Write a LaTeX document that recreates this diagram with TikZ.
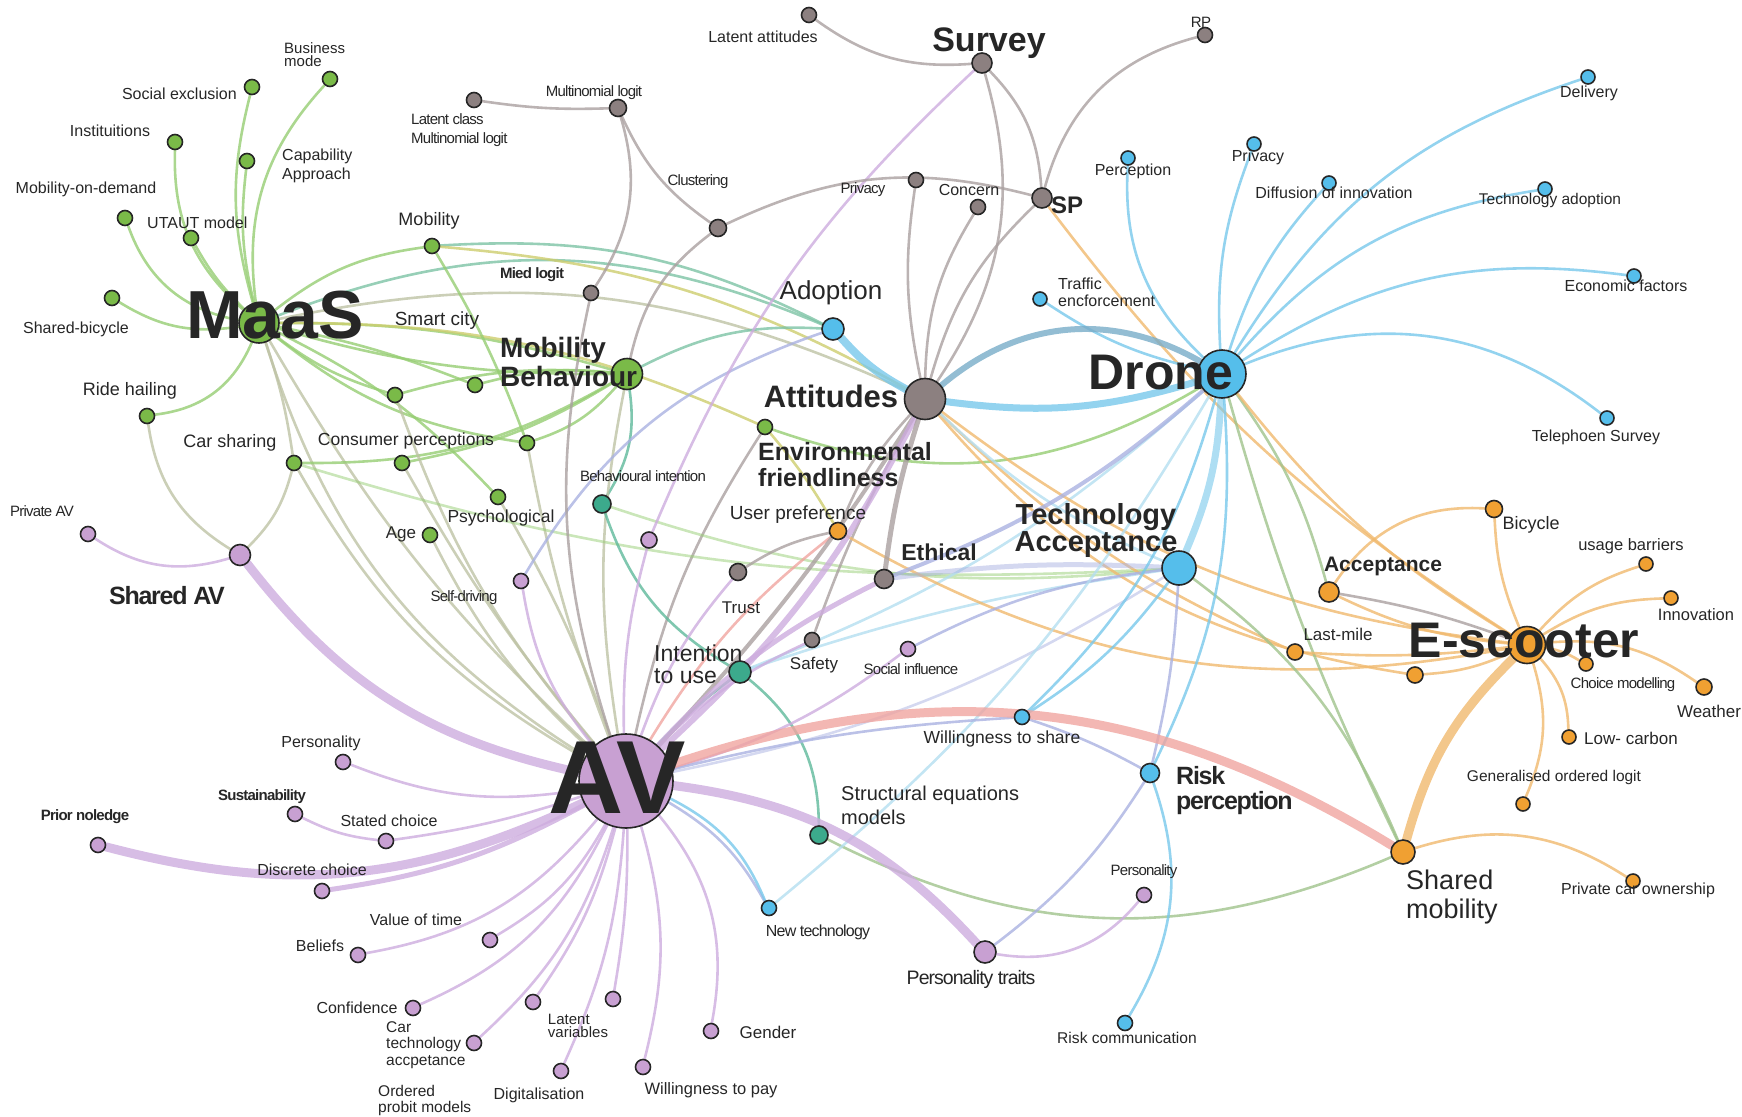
\documentclass[tikz,border=0pt]{standalone}
\usepackage{fontspec}
\setmainfont{Liberation Sans}
\newfontfamily\narrowsf{Liberation Sans}[LetterSpace=-5]
\usetikzlibrary{positioning}
\pgfdeclarelayer{bg}
\pgfsetlayers{bg,main}

\newcommand\fsz[2]{\fontsize{#1}{#2}\selectfont}

% node fills
\definecolor{nGreen}{RGB}{122,186,72}
\definecolor{nGray}{RGB}{140,128,128}
\definecolor{nPurple}{RGB}{200,160,210}
\definecolor{nBlue}{RGB}{85,190,235}
\definecolor{nOrange}{RGB}{240,160,50}
\definecolor{nTeal}{RGB}{60,170,140}
% link colours
\definecolor{cGreen}{RGB}{150,205,115}
\definecolor{cOlive}{RGB}{190,195,165}
\definecolor{cYellow}{RGB}{205,205,110}
\definecolor{cGTeal}{RGB}{125,195,165}
\definecolor{cGray}{RGB}{170,160,160}
\definecolor{cPurple}{RGB}{205,172,222}
\definecolor{cBlue}{RGB}{120,200,235}
\definecolor{cLBlue}{RGB}{180,222,240}
\definecolor{cLav}{RGB}{170,178,225}
\definecolor{cOrange}{RGB}{240,185,110}
\definecolor{cTeal}{RGB}{95,185,155}
\definecolor{cSage}{RGB}{160,195,140}
\definecolor{cSalmon}{RGB}{240,165,160}
\definecolor{cSteel}{RGB}{120,172,200}

\tikzset{
  dot/.style={circle,draw=black!85,line width=1.6pt,minimum size=15pt,inner sep=0pt},
  gn/.style={dot,fill=nGreen},
  gy/.style={dot,fill=nGray},
  pu/.style={dot,fill=nPurple},
  bu/.style={dot,fill=nBlue},
  og/.style={dot,fill=nOrange},
  tl/.style={dot,fill=nTeal},
  lb/.style={inner sep=0pt,text=black!85,font=\fsz{16}{18}},
  nlb/.style={inner sep=0pt,text=black!85,font=\narrowsf\fsz{15}{17}},
  lk/.style={line width=2.6pt,opacity=.8,line cap=round},
  eg/.style={lk,draw=cGreen},
  ego/.style={lk,draw=cOlive},
  egy/.style={lk,draw=cYellow},
  egt/.style={lk,draw=cGTeal},
  egr/.style={lk,draw=cGray},
  ep/.style={lk,draw=cPurple},
  eb/.style={lk,draw=cBlue},
  elb/.style={lk,draw=cLBlue},
  ela/.style={lk,draw=cLav},
  eor/.style={lk,draw=cOrange},
  et/.style={lk,draw=cTeal},
  egs/.style={lk,draw=cSage},
  esal/.style={lk,draw=cSalmon},
  est/.style={lk,draw=cSteel},
  fat/.style={line width=#1pt},
}

\begin{document}
\begin{tikzpicture}[x=1pt,y=1pt]
\useasboundingbox (0,0) rectangle (1742,-1116);

% ---- MaaS group
\node[gn,minimum size=40pt] (maas) at (259,-323) {};
\node[gn] (bizmode) at (330,-79) {};
\node[gn] (socexcl) at (252,-87) {};
\node[gn] (instit) at (175,-142) {};
\node[gn] (capab) at (247,-161) {};
\node[gn] (mod) at (125,-218) {};
\node[gn] (utaut) at (191,-238) {};
\node[gn] (sbike) at (112,-298) {};
\node[gn] (ridehail) at (147,-416) {};
\node[gn] (carshare) at (294,-463) {};
\node[gn] (mobility) at (432,-246) {};
\node[gn] (gA) at (395,-395) {};
\node[gn] (smartcity) at (475,-385) {};
\node[gn] (gB) at (402,-463) {};
\node[gn] (consumer) at (527,-443) {};
\node[gn] (psych) at (498,-497) {};
\node[gn] (age) at (430,-535) {};
\node[gn] (envfr) at (765,-427) {};
\node[gn,minimum size=31pt] (mobbeh) at (627,-374) {};

% ---- survey / attitudes group
\node[gy,minimum size=20pt] (survey) at (982,-63) {};
\node[gy] (rp) at (1205,-35) {};
\node[gy,minimum size=20pt] (sp) at (1042,-198) {};
\node[gy] (privg) at (916,-180) {};
\node[gy] (concern) at (978,-207) {};
\node[gy,minimum size=17pt] (clust) at (718,-228) {};
\node[gy,minimum size=17pt] (multi) at (618,-108) {};
\node[gy] (latclass) at (474,-100) {};
\node[gy] (mied) at (591,-293) {};
\node[gy] (latatt) at (809,-15) {};
\node[gy,minimum size=41pt] (attitudes) at (925,-399) {};
\node[gy,minimum size=19pt] (ethical) at (884,-579) {};
\node[gy,minimum size=17pt] (trust) at (738,-572) {};
\node[gy] (safety) at (812,-640) {};

% ---- E-scooter group
\node[og,minimum size=17pt] (userpref) at (838,-531) {};
\node[og,minimum size=37pt] (escooter) at (1527,-645) {};
\node[og,minimum size=20pt] (accept) at (1329,-592) {};
\node[og,minimum size=17pt] (bicycle) at (1494,-509) {};
\node[og,minimum size=14pt] (usage) at (1646,-564) {};
\node[og,minimum size=14pt] (innov) at (1671,-598) {};
\node[og,minimum size=16pt] (lastmile) at (1295,-652) {};
\node[og,minimum size=16pt] (oA) at (1415,-675) {};
\node[og,minimum size=14pt] (choice) at (1586,-664) {};
\node[og,minimum size=16pt] (weather) at (1704,-687) {};
\node[og,minimum size=14pt] (lowcarb) at (1569,-737) {};
\node[og,minimum size=14pt] (genord) at (1523,-804) {};
\node[og,minimum size=24pt] (sharedmob) at (1403,-852) {};
\node[og,minimum size=14pt] (privcar) at (1633,-881) {};

% ---- Drone group
\node[bu,minimum size=48pt] (drone) at (1222,-374) {};
\node[bu,minimum size=14pt] (delivery) at (1588,-77) {};
\node[bu,minimum size=14pt] (techadopt) at (1545,-189) {};
\node[bu,minimum size=14pt] (econ) at (1634,-276) {};
\node[bu,minimum size=14pt] (diffusion) at (1329,-183) {};
\node[bu,minimum size=14pt] (privb) at (1254,-144) {};
\node[bu,minimum size=14pt] (percept) at (1128,-158) {};
\node[bu,minimum size=14pt] (traffic) at (1040,-299) {};
\node[bu,minimum size=14pt] (teleph) at (1607,-418) {};
\node[bu,minimum size=34pt] (techacc) at (1179,-568) {};
\node[bu,minimum size=22pt] (adoption) at (833,-329) {};
\node[bu] (willshare) at (1022,-717) {};
\node[bu,minimum size=19pt] (riskperc) at (1150,-773) {};
\node[bu] (riskcomm) at (1125,-1023) {};
\node[bu] (newtech) at (769,-908) {};

% ---- intention group
\node[tl,minimum size=18pt] (behint) at (602,-504) {};
\node[tl,minimum size=22pt] (intention) at (740,-672) {};
\node[tl,minimum size=18pt] (sem) at (819,-835) {};

% ---- AV group
\node[pu,minimum size=94pt] (av) at (626,-781) {};
\node[pu,minimum size=21pt] (sharedav) at (240,-555) {};
\node[pu] (privav) at (88,-534) {};
\node[pu] (selfdrv) at (521,-581) {};
\node[pu,minimum size=16pt] (pA) at (649,-540) {};
\node[pu] (socinfl) at (908,-649) {};
\node[pu] (pers1) at (343,-762) {};
\node[pu] (sustain) at (295,-814) {};
\node[pu] (stated) at (386,-841) {};
\node[pu] (prior) at (98,-845) {};
\node[pu] (discrete) at (322,-891) {};
\node[pu] (vot) at (490,-940) {};
\node[pu] (beliefs) at (358,-955) {};
\node[pu] (confid) at (413,-1008) {};
\node[pu] (cartech) at (474,-1043) {};
\node[pu] (ordprob) at (533,-1002) {};
\node[pu] (latvar) at (613,-999) {};
\node[pu] (digital) at (561,-1071) {};
\node[pu] (wtp) at (643,-1067) {};
\node[pu] (gender) at (711,-1031) {};
\node[pu,minimum size=22pt] (perstraits) at (985,-952) {};
\node[pu] (pers2) at (1144,-895) {};

\begin{pgfonlayer}{bg}
% MaaS links
\draw[eg] (maas) to[bend left=25] (bizmode);
\draw[eg] (maas) to[bend left=15] (socexcl);
\draw[eg] (maas) to[bend left=10] (capab);
\draw[eg] (maas) to[bend left=25] (instit);
\draw[eg] (maas) to[bend left=8] (utaut);
\draw[eg] (maas) to[bend left=30] (mod);
\draw[eg] (maas) to[bend left=20] (sbike);
\draw[eg] (maas) to[bend left=30] (ridehail);
\draw[eg] (maas) to[bend left=15] (mobility);
\draw[eg] (maas) to[bend right=10] (gA);
\draw[eg] (maas) to[bend left=5] (smartcity);
\draw[eg] (maas) to[bend right=15] (consumer);
\draw[eg] (maas) to[bend left=8] (mobbeh);
\draw[eg] (maas) to[bend right=8] (mobbeh);
\draw[eg] (maas) to[bend left=10] (psych);
\draw[egy] (maas) to[bend left=12] (envfr);
\draw[egt] (maas) to[bend left=22] (adoption);
\draw[ego] (maas) to[bend left=18] (attitudes);
\draw[ego] (maas) to[bend left=5] (carshare);
\draw[ego] (maas) to[bend right=20] (av);
\draw[ego] (maas) to[bend right=8] (av);
\draw[egt] (mobility) to[bend left=15] (adoption);
\draw[egy] (mobility) to[bend left=12] (attitudes);
\draw[eg] (mobility) to[bend left=5] (consumer);
\draw[eg] (mobbeh) to[bend left=15] (consumer);
\draw[eg] (mobbeh) to[bend right=10] (smartcity);
\draw[eg] (mobbeh) to[bend right=10] (gA);
\draw[eg] (carshare) to[bend right=15] (mobbeh);
\draw[eg] (mobbeh) to[bend left=10] (gB);
\draw[egt] (mobbeh) to[bend left=15] (adoption);
\draw[egr] (mobbeh) to[bend left=20] (clust);
\draw[et] (mobbeh) to[bend left=20] (behint);
\draw[ego] (mobbeh) to[bend right=10] (av);
\draw[ego] (carshare) to[bend left=15] (sharedav);
\draw[ego] (ridehail) to[bend right=25] (sharedav);
\draw[ego] (carshare) to[bend right=15] (av);
\draw[ego] (gA) to[bend right=10] (av);
\draw[ego] (gB) to[bend right=5] (av);
\draw[ego] (age) to[bend right=10] (av);
\draw[ego] (psych) to[bend left=5] (av);
\draw[ego] (consumer) to[bend right=5] (av);
\draw[eg] (envfr) to[bend right=25] (drone);
\draw[egr] (envfr) to[bend right=10] (av);
\draw[egy] (envfr) to[bend left=5] (userpref);
\draw[eg,opacity=.5] (behint) to[bend right=12] (techacc);
\draw[eg,opacity=.5] (carshare) to[bend right=10] (techacc);
% intention links
\draw[et] (behint) to[bend right=20] (intention);
\draw[et] (intention) to[bend left=25] (sem);
\draw[et] (intention) to[bend right=5] (av);
\draw[elb] (intention) to[bend right=10] (drone);
\draw[elb] (intention) to[bend left=5] (techacc);
\draw[egs] (sem) to[bend right=25] (sharedmob);
% survey links
\draw[ela] (selfdrv) to[bend left=20] (adoption);
\draw[ep] (selfdrv) to[bend right=15] (av);
\draw[ep] (survey) to[bend right=12] (pA);
\draw[ep] (pA) to[bend right=8] (av);
\draw[egr] (survey) to[bend left=20] (latatt);
\draw[egr] (survey) to[bend left=20] (sp);
\draw[egr] (survey) to[bend left=25] (attitudes);
\draw[egr] (sp) to[bend left=30] (rp);
\draw[egr] (clust) to[bend left=20] (sp);
\draw[egr] (latclass) to[bend right=5] (multi);
\draw[egr] (multi) to[bend right=15] (clust);
\draw[egr] (multi) to[bend left=25] (mied);
\draw[egr] (mied) to[bend right=15] (av);
\draw[egr] (privg) to[bend right=10] (attitudes);
\draw[egr] (concern) to[bend right=15] (attitudes);
\draw[egr] (sp) to[bend right=15] (attitudes);
\draw[eor] (sp) to[bend right=10] (escooter);
% attitudes links
\draw[egr] (attitudes) to[bend right=5] (safety);
\draw[egr] (attitudes) to[bend right=10] (userpref);
\draw[egr] (trust) to[bend left=10] (userpref);
\draw[ep] (trust) to[bend right=10] (av);
\draw[eor] (attitudes) to[bend right=15] (escooter);
\draw[eor] (attitudes) to[bend right=10] (lastmile);
\draw[eor] (attitudes) to[bend right=20] (oA);
\draw[elb] (attitudes) to[bend right=10] (techacc);
\draw[eor] (userpref) to[bend right=20] (escooter);
\draw[esal] (userpref) to[bend right=10] (av);
\draw[ela,fat=4] (ethical) to[bend right=10] (drone);
\draw[ela,fat=5,opacity=.5] (ethical) to[bend left=5] (techacc);
\draw[ep] (safety) to[bend right=10] (av);
\draw[ep] (socinfl) to[bend left=10] (av);
\draw[ela] (socinfl) to[bend left=10] (techacc);
% drone links
\draw[ela,opacity=.5] (techacc) to[bend left=10] (av);
\draw[ela] (techacc) to[bend left=5] (riskperc);
\draw[eb] (techacc) to[bend left=10] (willshare);
\draw[egs] (techacc) to[bend left=15] (sharedmob);
\draw[eb] (drone) to[bend left=20] (delivery);
\draw[eb] (drone) to[bend left=12] (diffusion);
\draw[eb] (drone) to[bend left=20] (techadopt);
\draw[eb] (drone) to[bend left=20] (econ);
\draw[eb] (drone) to[bend left=30] (teleph);
\draw[eb] (drone) to[bend left=12] (privb);
\draw[eb] (drone) to[bend left=25] (percept);
\draw[eb] (drone) to[bend left=10] (traffic);
\draw[eb] (drone) to[bend left=15] (riskperc);
\draw[eb] (riskperc) to[bend left=25] (riskcomm);
\draw[eb] (drone) to[bend left=15] (willshare);
\draw[elb] (drone) to[bend left=10] (newtech);
\draw[egs] (drone) to[bend left=10] (accept);
\draw[egs] (drone) to[bend right=5] (sharedmob);
\draw[eor] (drone) to[bend right=10] (escooter);
\draw[ela] (riskperc) to[bend left=10] (perstraits);
\draw[ela] (willshare) to[bend right=5] (av);
\draw[ela] (willshare) to[bend left=5] (riskperc);
\draw[ela] (newtech) to[bend right=15] (av);
% e-scooter links
\draw[eor] (sharedmob) to[bend left=25] (privcar);
\draw[eor] (escooter) to[bend left=10] (bicycle);
\draw[eor] (escooter) to[bend left=15] (usage);
\draw[eor] (escooter) to[bend left=15] (innov);
\draw[eor] (escooter) to[bend left=20] (weather);
\draw[eor] (escooter) to[bend left=10] (choice);
\draw[eor] (escooter) to[bend left=20] (lowcarb);
\draw[eor] (escooter) to[bend left=20] (genord);
\draw[eor] (accept) to[bend left=30] (bicycle);
\draw[egr] (accept) to[bend left=5] (escooter);
\draw[eor] (accept) to[bend right=10] (escooter);
\draw[eor] (lastmile) to[bend right=5] (escooter);
\draw[eor] (oA) to[bend right=10] (escooter);
% AV links
\draw[ep] (av) to[bend left=15] (pers1);
\draw[ep] (sustain) to[bend right=10] (stated);
\draw[ep] (stated) to[bend right=5] (av);
\draw[ep] (av) to[bend left=15] (vot);
\draw[ep] (av) to[bend left=20] (beliefs);
\draw[ep] (av) to[bend left=20] (confid);
\draw[ep] (av) to[bend left=15] (cartech);
\draw[ep] (av) to[bend left=10] (ordprob);
\draw[ep] (av) to[bend left=5] (latvar);
\draw[ep] (av) to[bend left=10] (digital);
\draw[ep] (av) to[bend left=15] (wtp);
\draw[ep] (av) to[bend left=25] (gender);
\draw[ep,fat=5] (av) to[bend left=10] (discrete);
\draw[ep] (sharedav) to[bend left=25] (privav);
\draw[ep] (perstraits) to[bend right=30] (pers2);
\draw[eb] (av) to[bend left=20] (newtech);
% heavy links
\draw[ep,fat=9] (av) to[bend left=20] (sharedav);
\draw[ep,fat=9] (av) to[bend left=20] (prior);
\draw[ep,fat=9] (av) to[bend left=20] (perstraits);
\draw[egr,fat=4] (attitudes) to[bend left=5] (av);
\draw[ep,fat=6] (attitudes) to[bend left=10] (av);
\draw[egr,fat=5] (attitudes) to[bend right=5] (ethical);
\draw[ep,fat=5] (ethical) to[bend right=10] (av);
\draw[esal,fat=9] (av) to[bend left=25] (sharedmob);
\draw[eor,fat=9] (escooter) to[bend right=15] (sharedmob);
\draw[eb,fat=7,opacity=.6] (techacc) to[bend right=10] (drone);
\draw[eb,fat=8] (adoption) to[bend right=10] (attitudes);
\draw[est,fat=6] (attitudes) to[bend left=35] (drone);
\draw[eb,fat=7] (attitudes) to[bend right=12] (drone);
\end{pgfonlayer}

% ---- labels
\node[lb,font=\bfseries\fsz{68}{70}] (l-maas) at (275,-315) {MaaS};
\node[lb,font=\fsz{15}{13},align=left,anchor=north west] (l-bizmode) at (284,-42) {Business\\mode};
\node[lb,anchor=east] (l-socexcl) at (237,-94) {Social exclusion};
\node[lb] (l-instit) at (110,-131) {Instituitions};
\node[lb,align=left,anchor=west,font=\fsz{16}{19}] (l-capab) at (282,-166) {Capability\\Approach};
\node[lb] (l-mod) at (86,-189) {Mobility-on-demand};
\node[lb,anchor=west] (l-utaut) at (147,-223) {UTAUT model};
\node[lb] (l-sbike) at (76,-329) {Shared-bicycle};
\node[lb,font=\fsz{18}{20}] (l-ridehail) at (130,-391) {Ride hailing};
\node[lb,font=\fsz{18}{20}] (l-carshare) at (230,-443) {Car sharing};
\node[lb,font=\fsz{18}{20}] (l-mobility) at (429,-221) {Mobility};
\node[lb,font=\fsz{19}{21}] (l-smartcity) at (437,-321) {Smart city};
\node[lb,font=\fsz{17.5}{20}] (l-consumer) at (406,-441) {Consumer perceptions};
\node[lb,font=\fsz{17.5}{20}] (l-psych) at (501,-518) {Psychological};
\node[lb,font=\fsz{17}{20}] (l-age) at (401,-534) {Age};
\node[lb,font=\bfseries\fsz{25}{26},align=left,anchor=west] (l-envfr) at (758,-465) {Environmental\\friendliness};
\node[lb,font=\bfseries\fsz{28}{29},align=left,anchor=west] (l-mobbeh) at (500,-362) {Mobility\\Behaviour};

\node[lb,font=\bfseries\fsz{34}{36}] (l-survey) at (989,-43) {Survey};
\node[nlb] (l-rp) at (1201,-22) {RP};
\node[lb,font=\bfseries\fsz{24}{26}] (l-sp) at (1067,-205) {SP};
\node[nlb] (l-privg) at (863,-190) {Privacy};
\node[lb] (l-concern) at (969,-190) {Concern};
\node[nlb] (l-clust) at (698,-182) {Clustering};
\node[nlb] (l-multi) at (594,-93) {Multinomial logit};
\node[nlb,align=left,anchor=west,font=\narrowsf\fsz{15}{19}] (l-latclass) at (411,-130) {Latent class\\Multinomial logit};
\node[nlb,font=\narrowsf\bfseries\fsz{15}{17}] (l-mied) at (532,-275) {Mied logit};
\node[lb] (l-latatt) at (763,-37) {Latent attitudes};
\node[lb,font=\bfseries\fsz{31}{33}] (l-attitudes) at (831,-396) {Attitudes};
\node[lb,font=\bfseries\fsz{23}{25}] (l-ethical) at (939,-552) {Ethical};
\node[lb,font=\fsz{17}{19}] (l-trust) at (741,-608) {Trust};
\node[lb,font=\fsz{17}{19}] (l-safety) at (814,-665) {Safety};

\node[lb,font=\fsz{19}{21}] (l-userpref) at (798,-515) {User preference};
\node[lb,font=\bfseries\fsz{50}{52}] (l-escooter) at (1524,-641) {E-scooter};
\node[lb,font=\bfseries\fsz{21}{23}] (l-accept) at (1383,-566) {Acceptance};
\node[lb,font=\fsz{18}{20}] (l-bicycle) at (1531,-525) {Bicycle};
\node[lb,font=\fsz{16.5}{18}] (l-usage) at (1631,-546) {usage barriers};
\node[lb,font=\fsz{16.5}{18}] (l-innov) at (1696,-615) {Innovation};
\node[lb,font=\fsz{17}{19}] (l-lastmile) at (1338,-634) {Last-mile};
\node[nlb] (l-choice) at (1623,-685) {Choice modelling};
\node[lb,font=\fsz{17}{19}] (l-weather) at (1709,-711) {Weather};
\node[lb,font=\fsz{17}{19},anchor=west] (l-lowcarb) at (1584,-738) {Low- carbon};
\node[lb,font=\fsz{15.5}{17}] (l-genord) at (1554,-777) {Generalised ordered logit};
\node[lb,font=\fsz{27}{29},align=left,anchor=west] (l-sharedmob) at (1406,-897) {Shared\\mobility};
\node[lb] (l-privcar) at (1638,-890) {Private car ownership};

\node[lb,font=\bfseries\fsz{50}{52}] (l-drone) at (1161,-373) {Drone};
\node[lb] (l-delivery) at (1589,-93) {Delivery};
\node[lb,font=\fsz{15.5}{17}] (l-techadopt) at (1550,-200) {Technology adoption};
\node[lb] (l-econ) at (1626,-286) {Economic factors};
\node[lb] (l-diffusion) at (1334,-193) {Diffusion of innovation};
\node[lb] (l-privb) at (1258,-157) {Privacy};
\node[lb] (l-percept) at (1133,-171) {Perception};
\node[lb,font=\fsz{16}{17},align=left,anchor=west] (l-traffic) at (1058,-292) {Traffic\\encforcement};
\node[lb] (l-teleph) at (1596,-437) {Telephoen Survey};
\node[lb,font=\bfseries\fsz{29}{27},align=center] (l-techacc) at (1096,-530) {Technology\\Acceptance};
\node[lb,font=\fsz{26}{28}] (l-adoption) at (831,-293) {Adoption};
\node[lb,font=\fsz{17.5}{19}] (l-willshare) at (1002,-739) {Willingness to share};
\node[lb,font=\narrowsf\bfseries\fsz{25}{25},align=left,anchor=west] (l-riskperc) at (1176,-791) {Risk\\perception};
\node[lb,font=\fsz{15.6}{17}] (l-riskcomm) at (1127,-1038) {Risk communication};
\node[nlb,font=\narrowsf\fsz{16}{18}] (l-newtech) at (818,-932) {New technology};

\node[nlb] (l-behint) at (643,-476) {Behavioural intention};
\node[lb,font=\fsz{23}{22},align=left,anchor=west] (l-intention) at (654,-664) {Intention\\to use};
\node[lb,font=\fsz{20}{24},align=left,anchor=west] (l-sem) at (841,-805) {Structural equations\\models};

\node[lb,font=\bfseries\fsz{104}{104}] (l-av) at (617,-778) {AV};
\node[lb,font=\narrowsf\bfseries\fsz{25}{27}] (l-sharedav) at (167,-596) {Shared AV};
\node[nlb] (l-privav) at (42,-511) {Private AV};
\node[nlb] (l-selfdrv) at (464,-598) {Self-driving};
\node[nlb] (l-socinfl) at (911,-669) {Social influence};
\node[lb] (l-pers1) at (321,-743) {Personality};
\node[nlb,font=\narrowsf\bfseries\fsz{15}{17}] (l-sustain) at (262,-797) {Sustainability};
\node[lb] (l-stated) at (389,-821) {Stated choice};
\node[nlb,font=\narrowsf\bfseries\fsz{15}{17}] (l-prior) at (85,-817) {Prior noledge};
\node[lb] (l-discrete) at (312,-870) {Discrete choice};
\node[lb] (l-vot) at (416,-920) {Value of time};
\node[lb] (l-beliefs) at (320,-946) {Beliefs};
\node[lb] (l-confid) at (357,-1008) {Confidence};
\node[lb,font=\fsz{15.5}{16.5},align=left,anchor=west] (l-cartech) at (386,-1045) {Car\\technology\\accpetance};
\node[lb,font=\fsz{15.5}{16},align=left,anchor=west] (l-ordprob) at (378,-1100) {Ordered\\probit models};
\node[lb,font=\fsz{15}{13},align=left] (l-latvar) at (578,-1026) {Latent\\variables};
\node[lb] (l-digital) at (539,-1095) {Digitalisation};
\node[lb,font=\fsz{16.5}{18}] (l-wtp) at (711,-1090) {Willingness to pay};
\node[lb,font=\fsz{17}{19}] (l-gender) at (768,-1032) {Gender};
\node[nlb,font=\narrowsf\fsz{19.5}{21}] (l-perstraits) at (971,-979) {Personality traits};
\node[nlb] (l-pers2) at (1144,-872) {Personality};
\end{tikzpicture}
\end{document}
